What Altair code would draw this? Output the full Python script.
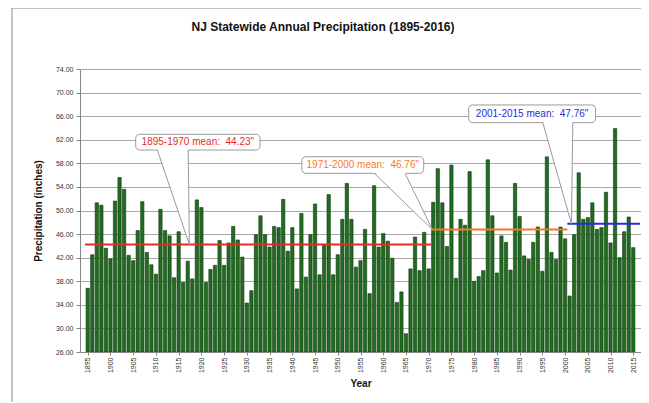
import altair as alt
import pandas as pd

# ---- data ----
years = list(range(1895, 2016))
precip = [
    36.8, 42.5, 51.3, 50.9, 43.6, 41.8, 51.6, 55.6, 53.6, 42.4,   # 1895-1904
    41.5, 46.6, 51.5, 42.9, 40.8, 39.2, 50.2, 46.6, 45.7, 38.6,   # 1905-1914
    46.4, 37.8, 41.4, 38.4, 51.8, 50.5, 37.8, 40.0, 40.7, 44.9,   # 1915-1924
    40.7, 44.5, 47.3, 45.0, 42.1, 34.3, 36.4, 45.9, 49.1, 45.9,   # 1925-1934
    43.8, 47.3, 47.1, 51.9, 43.1, 47.1, 36.7, 49.5, 38.7, 45.9,   # 1935-1944
    51.1, 39.1, 44.1, 52.7, 39.1, 42.5, 48.5, 54.6, 48.5, 40.4,   # 1945-1954
    41.5, 46.8, 35.9, 54.2, 43.8, 46.1, 44.8, 41.9, 34.4, 36.2,   # 1955-1964
    29.1, 40.1, 45.5, 39.8, 46.3, 40.1, 51.4, 57.1, 51.3, 43.9,   # 1965-1974
    57.7, 38.5, 48.5, 47.5, 56.6, 38.0, 38.8, 39.8, 58.6, 49.1,   # 1975-1984
    39.4, 45.7, 44.6, 39.9, 54.6, 49.0, 42.3, 41.7, 44.6, 47.2,   # 1985-1994
    39.7, 59.1, 42.9, 41.7, 47.2, 45.2, 35.5, 45.9, 56.4, 48.5,   # 1995-2004
    48.8, 51.3, 46.8, 47.1, 53.1, 44.5, 63.9, 42.0, 46.4, 48.9,   # 2005-2014
    43.7,                                                         # 2015
]

chart_title = "NJ Statewide Annual Precipitation (1895-2016)"

periods = ["1895-1970", "1971-2000", "2001-2015"]
mean_values = [44.23, 46.76, 47.76]
mean_start = [1894.4, 1970.5, 2000.5]
mean_end = [1970.5, 2000.5, 2016.5]
label_texts = [
    "1895-1970 mean:\u00a0 44.23\"",
    "1971-2000 mean:\u00a0 46.76\"",
    "2001-2015 mean:\u00a0 47.76\"",
]
period_colors = ["#e62a2a", "#f07d25", "#2a2ae0"]

# callout boxes (in data units)
box_x1 = [1905.55, 1942.1, 1978.8]
box_x2 = [1932.9, 1968.9, 2006.7]
box_top = [62.92, 59.12, 67.9]
box_bot = [60.26, 56.31, 64.9]
wedge_left = [1910.3, 1958.05, 1995.1]
wedge_right = [1917.1, 1964.8, 2001.7]
apex_x = [1917.36, 1970.8, 2001.4]

y_ticks = list(range(26, 75, 4))
x_ticks = list(range(1895, 2016, 5))

# ---- tables ----
bars = pd.DataFrame({"year": years, "precip": precip})
means = pd.DataFrame({"period": periods, "mean": mean_values,
                      "start": mean_start, "end": mean_end})
boxes = pd.DataFrame({"period": periods, "x1": box_x1, "x2": box_x2,
                      "top": box_top, "bot": box_bot, "label": label_texts})
boxes["cx"] = (boxes["x1"] + boxes["x2"]) / 2
boxes["cy"] = (boxes["top"] + boxes["bot"]) / 2

wedge_rows = []
side_rows = []
for i, p in enumerate(periods):
    wedge_rows.append({"period": p, "y": box_bot[i] + 0.3,
                       "xl": wedge_left[i], "xr": wedge_right[i]})
    wedge_rows.append({"period": p, "y": mean_values[i],
                       "xl": apex_x[i], "xr": apex_x[i]})
    for bx in (wedge_left[i], wedge_right[i]):
        side_rows.append({"period": p, "x": bx, "y": box_bot[i],
                          "x2": apex_x[i], "y2": mean_values[i]})
wedges = pd.DataFrame(wedge_rows)
sides = pd.DataFrame(side_rows)

xscale = alt.Scale(domain=[1894.4, 2015.6], nice=False, zero=False)
yscale = alt.Scale(domain=[26, 74], nice=False, zero=False)
cscale = alt.Scale(domain=periods, range=period_colors)

FONT = "Liberation Sans, Arial, sans-serif"

X_AXIS = alt.Axis(values=x_ticks, format="d", labelAngle=270, title="Year",
                  grid=False, tickSize=3, labelPadding=2, titlePadding=6)
Y_AXIS = alt.Axis(values=y_ticks, format=".2f", title="Precipitation (inches)",
                  grid=True, tickSize=4, labelPadding=3, titlePadding=12)


def X(field):
    return alt.X(field, scale=xscale, axis=X_AXIS)


def Y(field):
    return alt.Y(field, scale=yscale, axis=Y_AXIS)


bar_layer = alt.Chart(bars).mark_bar(
    width=3.3, fill="#226c22", stroke="#0c370c", strokeWidth=0.6, clip=True
).encode(
    x=X("year:Q"),
    y=Y("precip:Q"),
    y2=alt.datum(26),
)

mean_layer = alt.Chart(means).mark_rule(strokeWidth=2, clip=True).encode(
    x=X("start:Q"),
    x2="end:Q",
    y=Y("mean:Q"),
    color=alt.Color("period:N", scale=cscale, legend=None),
)

box_layer = alt.Chart(boxes).mark_rect(
    fill="white", stroke="#9a9a9a", strokeWidth=1, cornerRadius=4
).encode(
    x=X("x1:Q"),
    x2="x2:Q",
    y=Y("top:Q"),
    y2="bot:Q",
)

wedge_layer = alt.Chart(wedges).mark_area(
    orient="horizontal", color="white", opacity=1
).encode(
    x=X("xl:Q"),
    x2="xr:Q",
    y=Y("y:Q"),
    detail="period:N",
)

side_layer = alt.Chart(sides).mark_rule(color="#9a9a9a", strokeWidth=1).encode(
    x=X("x:Q"),
    x2="x2:Q",
    y=Y("y:Q"),
    y2="y2:Q",
)

text_layer = alt.Chart(boxes).mark_text(
    font=FONT, fontSize=10, align="center", baseline="middle"
).encode(
    x=X("cx:Q"),
    y=Y("cy:Q"),
    text="label:N",
    color=alt.Color("period:N", scale=cscale, legend=None),
)

frame_layer = alt.Chart(pd.DataFrame({"f": [0]})).mark_rect(
    fillOpacity=0, stroke="#8a8a8a", strokeWidth=1
).encode(
    x=alt.value(-68), x2=alt.value(700), y=alt.value(-61), y2=alt.value(420)
)

title_layer = alt.Chart(pd.DataFrame({"t": [chart_title]})).mark_text(
    font=FONT, fontSize=12, fontWeight="bold", color="#111",
    align="center", baseline="middle"
).encode(
    x=alt.value(243), y=alt.value(-42), text="t:N"
)

chart = alt.layer(
    frame_layer, bar_layer, mean_layer, wedge_layer, box_layer,
    wedge_layer, side_layer, text_layer, title_layer
).properties(
    width=561, height=283,
    autosize=alt.AutoSizeParams(type="none"),
    padding={"left": 72, "top": 61, "right": 0, "bottom": 50},
).configure_view(stroke=None).configure_axis(
    labelFont=FONT, labelFontSize=7, labelColor="#333",
    titleFont=FONT, titleFontSize=10, titleFontWeight="bold", titleColor="#111",
    domainColor="#888", tickColor="#888", gridColor="#a8a8a8", gridWidth=1,
)

chart.save("out.html", embed_options={"renderer": "svg", "actions": False})
